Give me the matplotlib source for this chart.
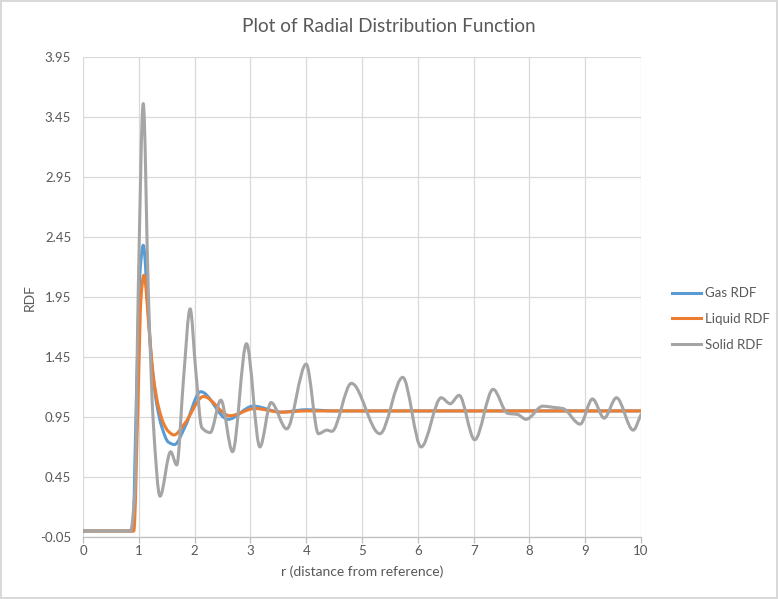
import matplotlib.pyplot as plt
import numpy as np
from matplotlib.path import Path
from matplotlib.patches import PathPatch
from matplotlib.lines import Line2D

plt.rcParams['font.family'] = ['Lato', 'DejaVu Sans']

# values
gas_r = [0, 0.89, 0.96, 1.02, 1.08, 1.17, 1.23, 1.32, 1.41, 1.53, 1.64, 1.83, 2.11, 2.60, 3.05, 3.55, 4.0, 4.5, 10.0]
gas_g = [0, 0, 1.17, 2.15, 2.38, 1.81, 1.40, 1.06, 0.87, 0.74, 0.72, 0.87, 1.16, 0.93, 1.04, 0.99, 1.01, 1.0, 1.0]

liquid_r = [0, 0.91, 0.99, 1.04, 1.09, 1.20, 1.26, 1.35, 1.44, 1.53, 1.63, 1.83, 2.16, 2.63, 3.08, 3.55, 4.0, 10.0]
liquid_g = [0, 0, 1.17, 1.95, 2.13, 1.59, 1.29, 1.04, 0.90, 0.83, 0.80, 0.90, 1.12, 0.96, 1.02, 0.99, 1.0, 1.0]

solid_r = [0, 0.85, 0.93, 0.99, 1.08, 1.17, 1.26, 1.38, 1.57, 1.68, 1.80, 1.92, 2.02, 2.13, 2.28,
           2.47, 2.68, 2.93, 3.17, 3.37, 3.65, 4.00, 4.22, 4.37, 4.46, 4.81, 5.32, 5.73, 6.06,
           6.42, 6.58, 6.74, 7.02, 7.35, 7.61, 7.79, 7.94, 8.24, 8.42, 8.60, 8.91, 9.13, 9.34,
           9.56, 9.86, 10.0]
solid_g = [0, 0, 0.34, 2.0, 3.56, 2.0, 0.90, 0.29, 0.66, 0.55, 1.26, 1.85, 1.34, 0.86, 0.82,
           1.09, 0.66, 1.56, 0.70, 1.07, 0.85, 1.39, 0.81, 0.84, 0.83, 1.23, 0.81, 1.28, 0.70,
           1.11, 1.06, 1.13, 0.76, 1.18, 0.98, 0.97, 0.93, 1.04, 1.03, 1.02, 0.89, 1.10, 0.94,
           1.11, 0.84, 0.97]

labels = ["Gas RDF", "Liquid RDF", "Solid RDF"]
colors = ['#5B9BD5', '#ED7D31', '#A5A5A5']
yticks = [-0.05, 0.45, 0.95, 1.45, 1.95, 2.45, 2.95, 3.45, 3.95]


def smooth_path(xs, ys):
    # smoothed line like Excel's: cubic bezier segments through the data points
    x = np.asarray(xs, float)
    y = np.asarray(ys, float)
    h = np.diff(x)
    d = np.diff(y) / h
    m = np.zeros_like(y)
    m[0], m[-1] = d[0], d[-1]
    for i in range(1, len(y) - 1):
        if d[i - 1] * d[i] > 0:
            w1 = 2 * h[i] + h[i - 1]
            w2 = h[i] + 2 * h[i - 1]
            m[i] = (w1 + w2) / (w1 / d[i - 1] + w2 / d[i])
    verts = [(x[0], y[0])]
    codes = [Path.MOVETO]
    for i in range(len(h)):
        verts += [(x[i] + h[i] / 3, y[i] + m[i] * h[i] / 3),
                  (x[i + 1] - h[i] / 3, y[i + 1] - m[i + 1] * h[i] / 3),
                  (x[i + 1], y[i + 1])]
        codes += [Path.CURVE4] * 3
    return Path(verts, codes)


fig = plt.figure(figsize=(7.78, 5.99), dpi=100, facecolor='white')
fig.patch.set_edgecolor('#D9D9D9')
fig.patch.set_linewidth(1.5)
ax = fig.add_axes([0.1067, 0.1035, 0.7172, 0.8018])

for xs, ys, c in zip([gas_r, liquid_r, solid_r], [gas_g, liquid_g, solid_g], colors):
    ax.add_patch(PathPatch(smooth_path(xs, ys), facecolor='none', edgecolor=c,
                           linewidth=2.2, capstyle='round', joinstyle='round', zorder=3))

ax.set_xlim(0, 10)
ax.set_ylim(-0.05, 3.95)
ax.set_xticks(range(0, 11))
ax.set_yticks(yticks)
ax.set_yticklabels(['%.2f' % v for v in yticks])
ax.grid(True, color='#D9D9D9', linewidth=0.9, zorder=0)
ax.set_axisbelow(True)
for s in ['top', 'right', 'left']:
    ax.spines[s].set_visible(False)
ax.spines['bottom'].set_color('#BFBFBF')
ax.spines['bottom'].set_linewidth(0.9)
ax.tick_params(axis='x', length=4, width=0.9, color='#BFBFBF', pad=2, labelsize=9.5, labelcolor='#595959')
ax.tick_params(axis='y', length=0, pad=8.5, labelsize=9.5, labelcolor='#595959')

fig.text(0.5, 0.955, "Plot of Radial Distribution Function", ha='center', va='center',
         fontsize=13.7, color='#595959')
fig.text(0.0386, 0.504, "RDF", rotation=90, ha='center', va='center', fontsize=10, color='#595959')
fig.text(0.465, 0.045, "r (distance from reference)", ha='center', va='center', fontsize=10, color='#595959')

handles = [Line2D([], [], color=c, linewidth=2.2) for c in colors]
fig.legend(handles, labels, loc='center left', bbox_to_anchor=(0.8636, 0.4674), frameon=False,
           fontsize=9.5, labelcolor='#595959', handlelength=2.2, handletextpad=0.3,
           labelspacing=1.05, borderpad=0, borderaxespad=0)

fig.savefig('out.png', dpi=100)
